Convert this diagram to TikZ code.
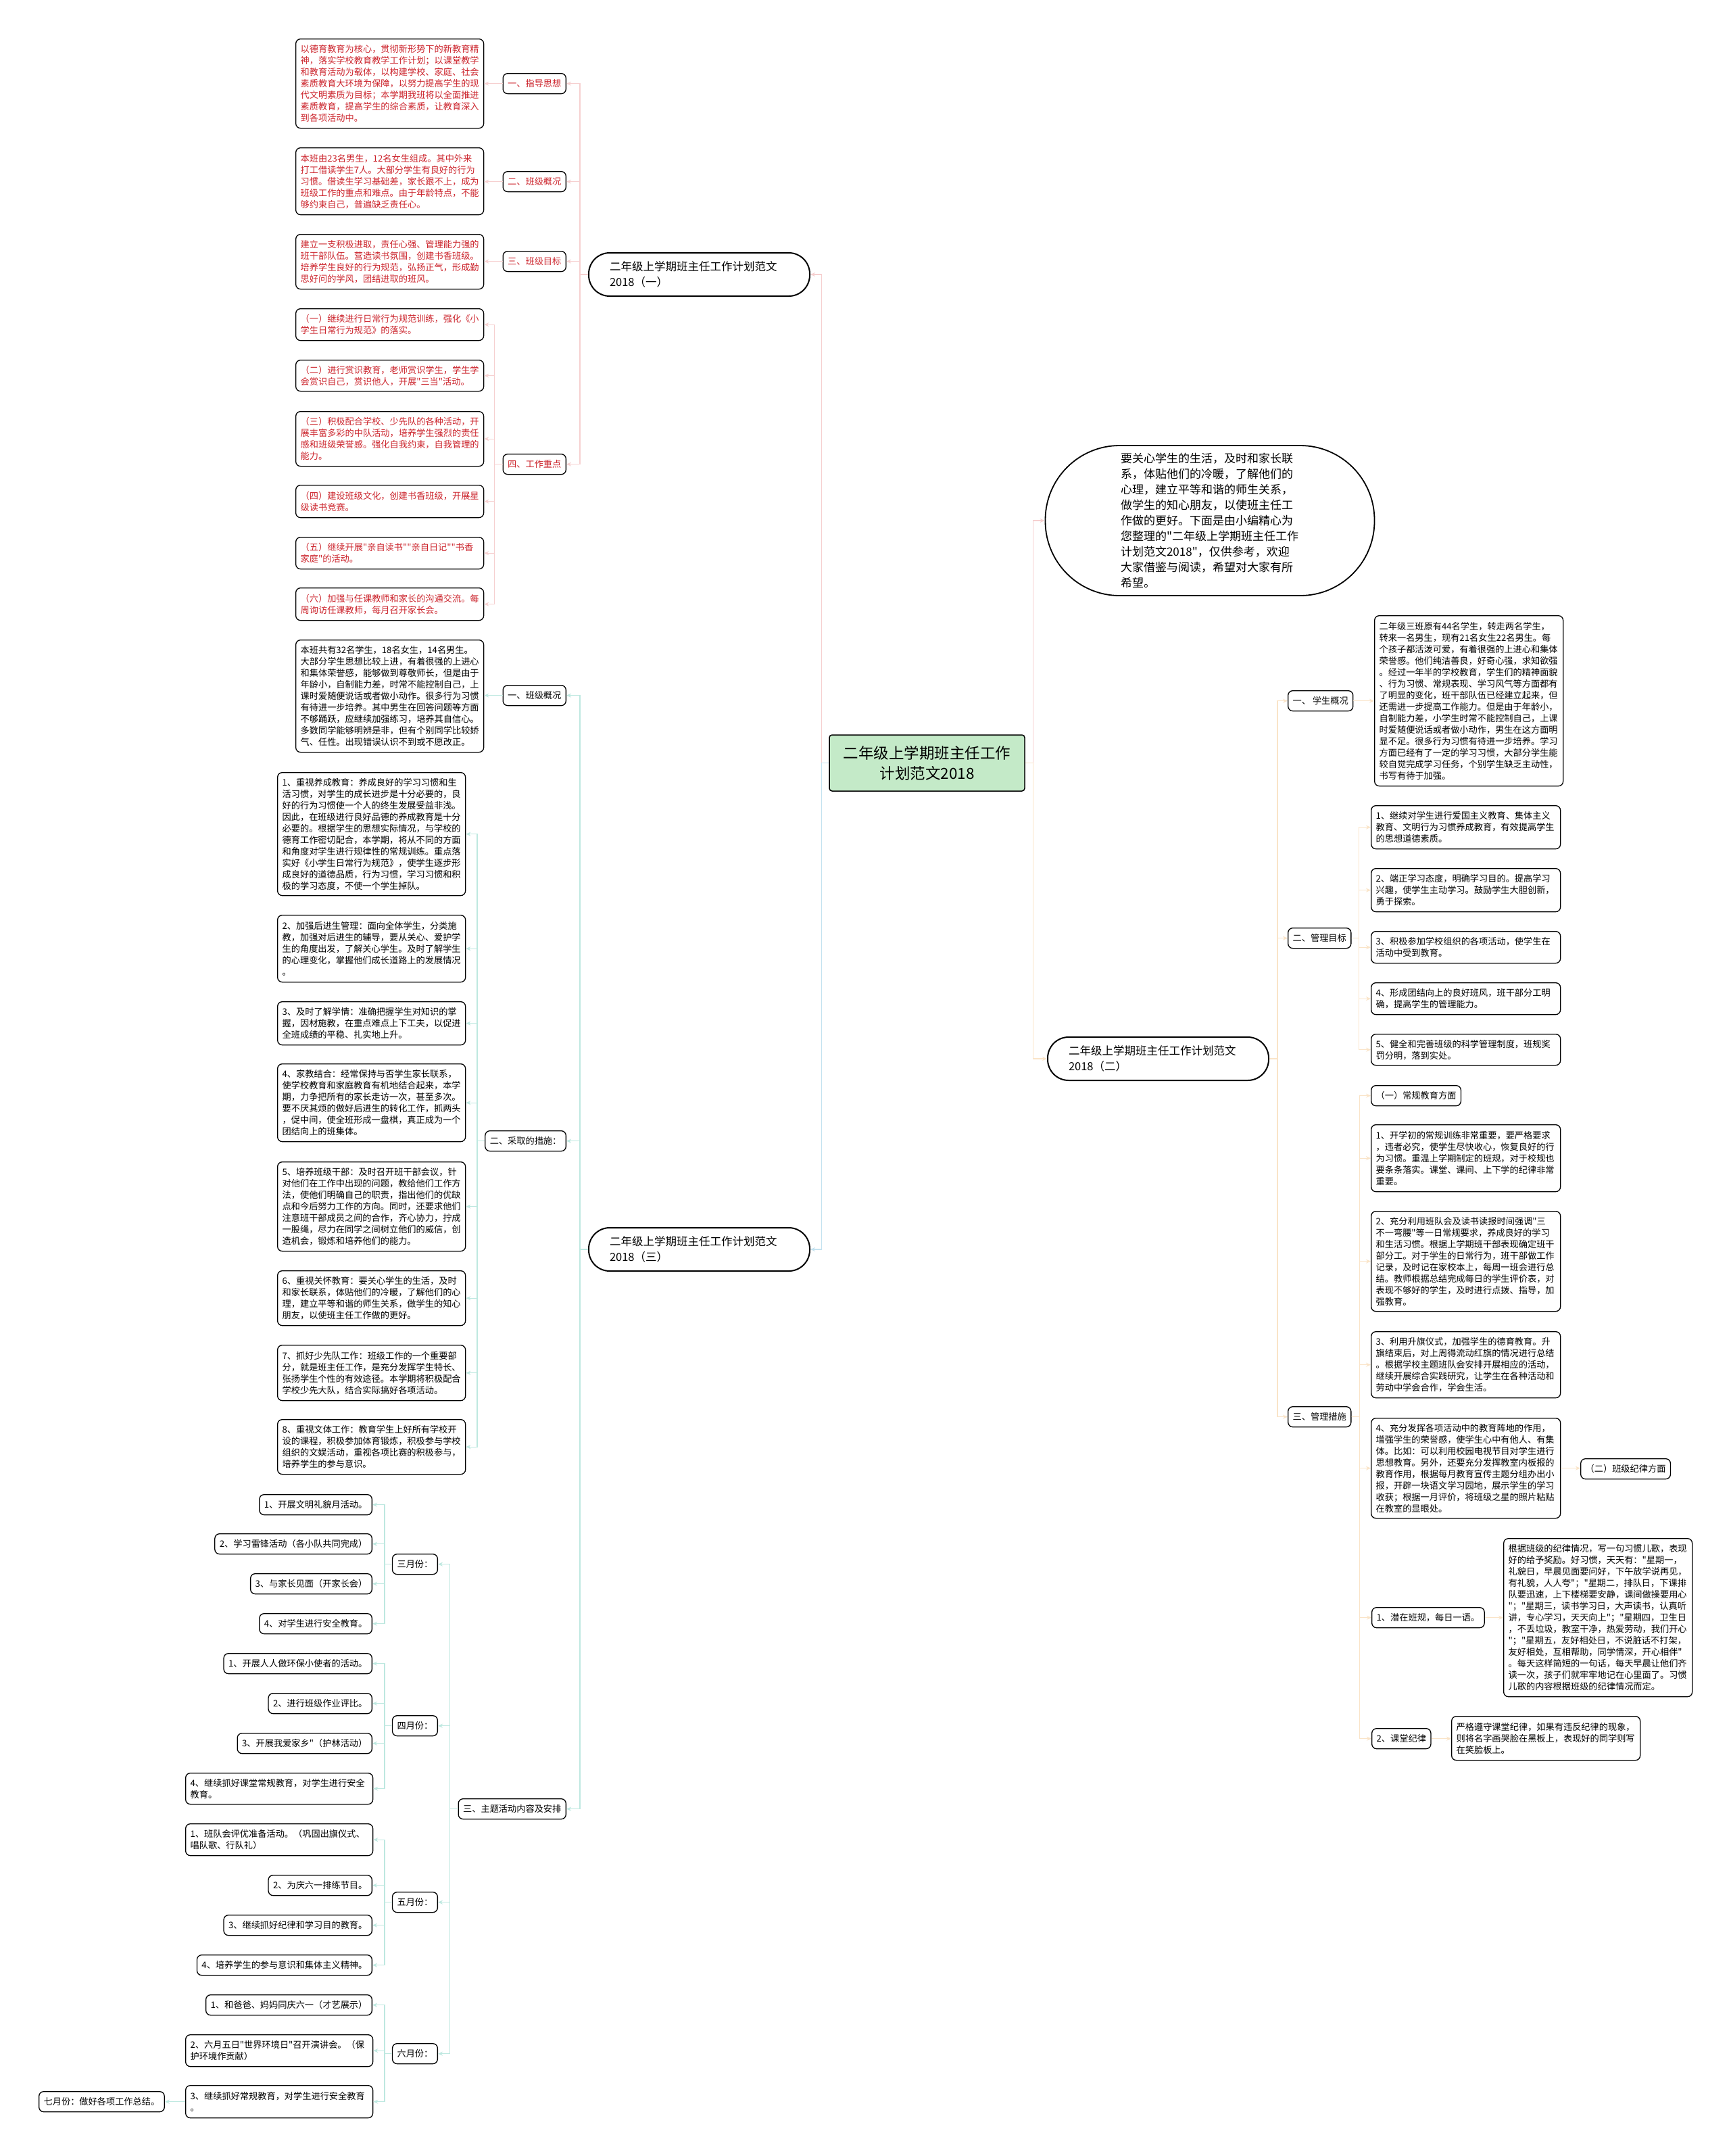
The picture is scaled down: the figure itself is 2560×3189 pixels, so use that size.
\documentclass[tikz,border=0pt]{standalone}
\usepackage{fontspec}
\newfontfamily\cjk{Noto Sans CJK SC}
\usetikzlibrary{arrows.meta}
\definecolor{redtxt}{RGB}{204,36,44}
\definecolor{pinkl}{RGB}{246,208,208}
\definecolor{teall}{RGB}{190,232,224}
\definecolor{bluel}{RGB}{196,226,240}
\definecolor{orangel}{RGB}{250,228,200}
\definecolor{greenf}{RGB}{196,234,200}
\tikzset{
  bx/.style={draw=black, line width=1.3pt, rounded corners=7pt, fill=white,
    inner xsep=7pt, inner ysep=4pt, align=left, anchor=north west,
    font=\cjk\fontsize{13.2}{17}\selectfont},
  rbx/.style={bx, text=redtxt},
  labl/.style={bx, anchor=north east, minimum height=30pt},
  labr/.style={bx, minimum height=30pt},
  subn/.style={draw=black, line width=2pt, rounded corners=31pt, fill=white,
    anchor=north west, minimum height=64pt, text width=265pt, inner xsep=31pt,
    align=left, font=\cjk\fontsize{16.5}{23}\selectfont},
  cpk/.style={draw=pinkl, line width=1.3pt, -{Stealth[length=7pt,width=6pt]}},
  ctl/.style={draw=teall, line width=1.3pt, -{Stealth[length=7pt,width=6pt]}},
  cbl/.style={draw=bluel, line width=1.3pt, -{Stealth[length=7pt,width=6pt]}},
  cor/.style={draw=orangel, line width=1.3pt, -{Stealth[length=7pt,width=6pt]}}
}
\begin{document}
\begin{tikzpicture}[x=1pt,y=-1pt]
\fill[white] (0,0) rectangle (2560,3189);
\useasboundingbox (0,0) rectangle (2560,3189);

% ---------- centre ----------
\node[draw, line width=1.5pt, fill=greenf, rounded corners=4pt, minimum width=289pt,
  minimum height=83pt, align=center, font=\cjk\fontsize{22.5}{30}\selectfont]
  (CN) at (1371.5,1128.5) {二年级上学期班主任工作\\计划范文2018};

\node[draw, line width=1.8pt, fill=white, rounded corners=110pt, minimum width=487pt,
  minimum height=222pt, text width=264pt, inner xsep=111.5pt, align=left,
  font=\cjk\fontsize{17}{23}\selectfont] (E) at (1790,770)
  {要关心学生的生活，及时和家长联\\系，体贴他们的冷暖，了解他们的\\心理，建立平等和谐的师生关系，\\做学生的知心朋友，以使班主任工\\作做的更好。下面是由小编精心为\\您整理的"二年级上学期班主任工作\\计划范文2018"，仅供参考，欢迎\\大家借鉴与阅读，希望对大家有所\\希望。};

\node[subn] (n1) at (870,373) {二年级上学期班主任工作计划范文\\2018（一）};
\node[subn] (n3) at (870,1815) {二年级上学期班主任工作计划范文\\2018（三）};
\node[subn] (n2) at (1549,1533) {二年级上学期班主任工作计划范文\\2018（二）};

% ---------- (一) subtree ----------
\node[labl, text=redtxt] (L1) at (838,108) {一、指导思想};
\node[labl, text=redtxt] (L2) at (838,253) {二、班级概况};
\node[labl, text=redtxt] (L3) at (838,371) {三、班级目标};
\node[labl, text=redtxt] (L4) at (838,671) {四、工作重点};

\node[rbx, text width=264pt, minimum height=132pt] (B1) at (437,57)
  {以德育教育为核心，贯彻新形势下的新教育精\\神，落实学校教育教学工作计划；以课堂教学\\和教育活动为载体，以构建学校、家庭、社会\\素质教育大环境为保障，以努力提高学生的现\\代文明素质为目标；本学期我班将以全面推进\\素质教育，提高学生的综合素质，让教育深入\\到各项活动中。};
\node[rbx, text width=264pt, minimum height=99pt] (B2) at (437,218)
  {本班由23名男生，12名女生组成。其中外来\\打工借读学生7人。大部分学生有良好的行为\\习惯。借读生学习基础差，家长跟不上，成为\\班级工作的重点和难点。由于年龄特点，不能\\够约束自己，普遍缺乏责任心。};
\node[rbx, text width=264pt, minimum height=81pt] (B3) at (437,346)
  {建立一支积极进取，责任心强、管理能力强的\\班干部队伍。营造读书氛围，创建书香班级。\\培养学生良好的行为规范，弘扬正气，形成勤\\思好问的学风，团结进取的班风。};
\node[rbx, text width=264pt, minimum height=47pt] (W1) at (437,456)
  {（一）继续进行日常行为规范训练，强化《小\\学生日常行为规范》的落实。};
\node[rbx, text width=264pt, minimum height=46pt] (W2) at (437,532)
  {（二）进行赏识教育，老师赏识学生，学生学\\会赏识自己，赏识他人，开展"三当"活动。};
\node[rbx, text width=264pt, minimum height=81pt] (W3) at (437,608)
  {（三）积极配合学校、少先队的各种活动，开\\展丰富多彩的中队活动，培养学生强烈的责任\\感和班级荣誉感。强化自我约束，自我管理的\\能力。};
\node[rbx, text width=264pt, minimum height=48pt] (W4) at (437,717)
  {（四）建设班级文化，创建书香班级，开展星\\级读书竞赛。};
\node[rbx, text width=264pt, minimum height=47pt] (W5) at (437,794)
  {（五）继续开展"亲自读书""亲自日记""书香\\家庭"的活动。};
\node[rbx, text width=264pt, minimum height=48pt] (W6) at (437,869)
  {（六）加强与任课教师和家长的沟通交流。每\\周询访任课教师，每月召开家长会。};

% ---------- (三) subtree ----------
\node[labl] (T1) at (838,1013) {一、班级概况};
\node[labl] (T2) at (838,1672) {二、采取的措施：};
\node[labl] (T3) at (838,2660) {三、主题活动内容及安排};

\node[bx, text width=264pt, minimum height=166pt] (C1) at (437,946)
  {本班共有32名学生，18名女生，14名男生。\\大部分学生思想比较上进，有着很强的上进心\\和集体荣誉感，能够做到尊敬师长，但是由于\\年龄小，自制能力差，时常不能控制自己，上\\课时爱随便说话或者做小动作。很多行为习惯\\有待进一步培养。其中男生在回答问题等方面\\不够踊跃，应继续加强练习，培养其自信心。\\多数同学能够明辨是非，但有个别同学比较娇\\气、任性。出现错误认识不到或不愿改正。};

\node[bx, text width=264pt, minimum height=182pt] (M1) at (410,1142)
  {1、重视养成教育：养成良好的学习习惯和生\\活习惯，对学生的成长进步是十分必要的，良\\好的行为习惯使一个人的终生发展受益非浅。\\因此，在班级进行良好品德的养成教育是十分\\必要的。根据学生的思想实际情况，与学校的\\德育工作密切配合，本学期，将从不同的方面\\和角度对学生进行规律性的常规训练。重点落\\实好《小学生日常行为规范》，使学生逐步形\\成良好的道德品质，行为习惯，学习习惯和积\\极的学习态度，不使一个学生掉队。};
\node[bx, text width=264pt, minimum height=99pt] (M2) at (410,1353)
  {2、加强后进生管理：面向全体学生，分类施\\教，加强对后进生的辅导，要从关心、爱护学\\生的角度出发，了解关心学生。及时了解学生\\的心理变化，掌握他们成长道路上的发展情况\\。};
\node[bx, text width=264pt, minimum height=64pt] (M3) at (410,1481)
  {3、及时了解学情：准确把握学生对知识的掌\\握，因材施教，在重点难点上下工夫，以促进\\全班成绩的平稳、扎实地上升。};
\node[bx, text width=264pt, minimum height=115pt] (M4) at (410,1573)
  {4、家教结合：经常保持与否学生家长联系，\\使学校教育和家庭教育有机地结合起来，本学\\期，力争把所有的家长走访一次，甚至多次。\\要不厌其烦的做好后进生的转化工作，抓两头\\，促中间，使全班形成一盘棋，真正成为一个\\团结向上的班集体。};
\node[bx, text width=264pt, minimum height=132pt] (M5) at (410,1718)
  {5、培养班级干部：及时召开班干部会议，针\\对他们在工作中出现的问题，教给他们工作方\\法，使他们明确自己的职责，指出他们的优缺\\点和今后努力工作的方向。同时，还要求他们\\注意班干部成员之间的合作，齐心协力，拧成\\一股绳，尽力在同学之间树立他们的威信，创\\造机会，锻炼和培养他们的能力。};
\node[bx, text width=264pt, minimum height=81pt] (M6) at (410,1879)
  {6、重视关怀教育：要关心学生的生活，及时\\和家长联系，体贴他们的冷暖，了解他们的心\\理，建立平等和谐的师生关系，做学生的知心\\朋友，以使班主任工作做的更好。};
\node[bx, text width=264pt, minimum height=82pt] (M7) at (410,1989)
  {7、抓好少先队工作：班级工作的一个重要部\\分，就是班主任工作，是充分发挥学生特长、\\张扬学生个性的有效途径。本学期将积极配合\\学校少先大队，结合实际搞好各项活动。};
\node[bx, text width=264pt, minimum height=81pt] (M8) at (410,2099)
  {8、重视文体工作：教育学生上好所有学校开\\设的课程，积极参加体育锻炼，积极参与学校\\组织的文娱活动，重视各项比赛的积极参与，\\培养学生的参与意识。};

\node[labl] (Mar) at (648,2298) {三月份：};
\node[labl] (Apr) at (648,2537) {四月份：};
\node[labl] (May) at (648,2798) {五月份：};
\node[labl] (Jun) at (648,3022) {六月份：};

\node[labl] (Mar1) at (551,2210) {1、开展文明礼貌月活动。};
\node[labl] (Mar2) at (551,2268) {2、学习雷锋活动（各小队共同完成）};
\node[labl] (Mar3) at (551,2327) {3、与家长见面（开家长会）};
\node[labl] (Mar4) at (551,2386) {4、对学生进行安全教育。};
\node[labl] (Apr1) at (551,2445) {1、开展人人做环保小使者的活动。};
\node[labl] (Apr2) at (551,2504) {2、进行班级作业评比。};
\node[labl] (Apr3) at (551,2563) {3、开展我爱家乡"（护林活动）};
\node[bx, text width=263pt, minimum height=46pt] (Apr4) at (274,2622)
  {4、继续抓好课堂常规教育，对学生进行安全\\教育。};
\node[bx, text width=263pt, minimum height=47pt] (May1) at (274,2697)
  {1、班队会评优准备活动。（巩固出旗仪式、\\唱队歌、行队礼）};
\node[labl] (May2) at (551,2773) {2、为庆六一排练节目。};
\node[labl] (May3) at (551,2832) {3、继续抓好纪律和学习目的教育。};
\node[labl] (May4) at (551,2891) {4、培养学生的参与意识和集体主义精神。};
\node[labl] (Jun1) at (551,2950) {1、和爸爸、妈妈同庆六一（才艺展示）};
\node[bx, text width=263pt, minimum height=47pt] (Jun2) at (274,3009)
  {2、六月五日"世界环境日"召开演讲会。（保\\护环境作贡献）};
\node[bx, text width=263pt, minimum height=48pt] (Jun3) at (274,3084)
  {3、继续抓好常规教育，对学生进行安全教育\\。};
\node[labr] (Jul) at (57,3093) {七月份：做好各项工作总结。};

% ---------- (二) subtree ----------
\node[labr] (R1) at (1905,1021) {一、 学生概况};
\node[labr] (R2) at (1905,1372) {二、管理目标};
\node[labr] (R3) at (1905,2080) {三、管理措施};

\node[bx, text width=265pt, minimum height=252pt] (S) at (2033,910)
  {二年级三班原有44名学生，转走两名学生，\\转来一名男生，现有21名女生22名男生。每\\个孩子都活泼可爱，有着很强的上进心和集体\\荣誉感。他们纯洁善良，好奇心强，求知欲强\\。经过一年半的学校教育，学生们的精神面貌\\、行为习惯、常规表现、学习风气等方面都有\\了明显的变化，班干部队伍已经建立起来，但\\还需进一步提高工作能力。但是由于年龄小，\\自制能力差，小学生时常不能控制自己，上课\\时爱随便说话或者做小动作，男生在这方面明\\显不足。很多行为习惯有待进一步培养。学习\\方面已经有了一定的学习习惯，大部分学生能\\较自觉完成学习任务，个别学生缺乏主动性，\\书写有待于加强。};

\node[bx, text width=266pt, minimum height=64pt] (G1) at (2028,1191)
  {1、继续对学生进行爱国主义教育、集体主义\\教育、文明行为习惯养成教育，有效提高学生\\的思想道德素质。};
\node[bx, text width=266pt, minimum height=64pt] (G2) at (2028,1284)
  {2、端正学习态度，明确学习目的。提高学习\\兴趣，使学生主动学习。鼓励学生大胆创新，\\勇于探索。};
\node[bx, text width=266pt, minimum height=47pt] (G3) at (2028,1377)
  {3、积极参加学校组织的各项活动，使学生在\\活动中受到教育。};
\node[bx, text width=266pt, minimum height=47pt] (G4) at (2028,1453)
  {4、形成团结向上的良好班风，班干部分工明\\确，提高学生的管理能力。};
\node[bx, text width=266pt, minimum height=46pt] (G5) at (2028,1529)
  {5、健全和完善班级的科学管理制度，班规奖\\罚分明，落到实处。};

\node[labr] (P0) at (2028,1605) {（一）常规教育方面};
\node[bx, text width=266pt, minimum height=99pt] (P1) at (2028,1663)
  {1、开学初的常规训练非常重要，要严格要求\\，违者必究，使学生尽快收心，恢复良好的行\\为习惯。重温上学期制定的班规，对于校规也\\要条条落实。课堂、课间、上下学的纪律非常\\重要。};
\node[bx, text width=266pt, minimum height=148pt] (P2) at (2028,1791)
  {2、充分利用班队会及读书读报时间强调"三\\不一弯腰"等一日常规要求，养成良好的学习\\和生活习惯。根据上学期班干部表现确定班干\\部分工。对于学生的日常行为，班干部做工作\\记录，及时记在家校本上，每周一班会进行总\\结。教师根据总结完成每日的学生评价表，对\\表现不够好的学生，及时进行点拨、指导，加\\强教育。};
\node[bx, text width=266pt, minimum height=98pt] (P3) at (2028,1969)
  {3、利用升旗仪式，加强学生的德育教育。升\\旗结束后，对上周得流动红旗的情况进行总结\\。根据学校主题班队会安排开展相应的活动，\\继续开展综合实践研究，让学生在各种活动和\\劳动中学会合作，学会生活。};
\node[bx, text width=266pt, minimum height=148pt] (P4) at (2028,2097)
  {4、充分发挥各项活动中的教育阵地的作用，\\增强学生的荣誉感，使学生心中有他人、有集\\体。比如：可以利用校园电视节目对学生进行\\思想教育。另外，还要充分发挥教室内板报的\\教育作用，根据每月教育宣传主题分组办出小\\报，开辟一块语文学习园地，展示学生的学习\\收获；根据一月评价，将班级之星的照片粘贴\\在教室的显眼处。};
\node[labr] (Q0) at (2338,2157) {（二）班级纪律方面};
\node[labr] (P5) at (2029,2377) {1、潜在班规，每日一语。};
\node[bx, text width=265pt, minimum height=234pt] (P5t) at (2224,2275)
  {根据班级的纪律情况，写一句习惯儿歌，表现\\好的给予奖励。好习惯，天天有："星期一，\\礼貌日，早晨见面要问好，下午放学说再见，\\有礼貌，人人夸"；"星期二，排队日，下课排\\队要迅速，上下楼梯要安静，课间做操要用心\\"；"星期三，读书学习日，大声读书，认真听\\讲，专心学习，天天向上"；"星期四，卫生日\\，不丢垃圾，教室干净，热爱劳动，我们开心\\"；"星期五，友好相处日，不说脏话不打架，\\友好相处，互相帮助，同学情深，开心相伴"\\。每天这样简短的一句话，每天早晨让他们齐\\读一次，孩子们就牢牢地记在心里面了。习惯\\儿歌的内容根据班级的纪律情况而定。};
\node[labr] (P6) at (2029,2556) {2、课堂纪律};
\node[bx, text width=265pt, minimum height=65pt] (P6t) at (2147,2538)
  {严格遵守课堂纪律，如果有违反纪律的现象，\\则将名字画哭脸在黑板上，表现好的同学则写\\在笑脸板上。};

% ---------- connectors ----------
\draw[cpk] (CN.west) -- ++(-11,0) |- (n1.east);
\draw[cbl] (CN.west) -- ++(-11,0) |- (n3.east);
\draw[cpk] (CN.east) -- ++(12,0) |- (E.west);
\draw[cor] (CN.east) -- ++(12,0) |- (n2.west);

\foreach \t in {L1,L2,L3,L4} \draw[cpk] (n1.west) -- ++(-12,0) |- (\t.east);
\draw[cpk] (L1.west) -- (B1.east |- L1.west);
\draw[cpk] (L2.west) -- (B2.east |- L2.west);
\draw[cpk] (L3.west) -- (B3.east |- L3.west);
\foreach \t in {W1,W2,W3,W4,W5,W6} \draw[cpk] (L4.west) -- ++(-12,0) |- (\t.east);

\foreach \t in {T1,T2,T3} \draw[ctl] (n3.west) -- ++(-12,0) |- (\t.east);
\draw[ctl] (T1.west) -- (C1.east |- T1.west);
\foreach \t in {M1,M2,M3,M4,M5,M6,M7,M8} \draw[ctl] (T2.west) -- ++(-11,0) |- (\t.east);
\foreach \t in {Mar,Apr,May,Jun} \draw[ctl] (T3.west) -- ++(-12,0) |- (\t.east);
\foreach \t in {Mar1,Mar2,Mar3,Mar4} \draw[ctl] (Mar.west) -- ++(-11,0) |- (\t.east);
\foreach \t in {Apr1,Apr2,Apr3,Apr4} \draw[ctl] (Apr.west) -- ++(-11,0) |- (\t.east);
\foreach \t in {May1,May2,May3,May4} \draw[ctl] (May.west) -- ++(-11,0) |- (\t.east);
\foreach \t in {Jun1,Jun2,Jun3} \draw[ctl] (Jun.west) -- ++(-11,0) |- (\t.east);
\draw[ctl] (Jun3.west) -- (Jul.east |- Jun3.west);

\foreach \t in {R1,R2,R3} \draw[cor] (n2.east) -- ++(12,0) |- (\t.west);
\draw[cor] (R1.east) -- (S.west |- R1.east);
\foreach \t in {G1,G2,G3,G4,G5} \draw[cor] (R2.east) -- ++(11,0) |- (\t.west);
\foreach \t in {P0,P1,P2,P3,P4,P5,P6} \draw[cor] (R3.east) -- ++(12,0) |- (\t.west);
\draw[cor] (P4.east) -- (Q0.west |- P4.east);
\draw[cor] (P5.east) -- (P5t.west |- P5.east);
\draw[cor] (P6.east) -- (P6t.west |- P6.east);
\end{tikzpicture}
\end{document}
